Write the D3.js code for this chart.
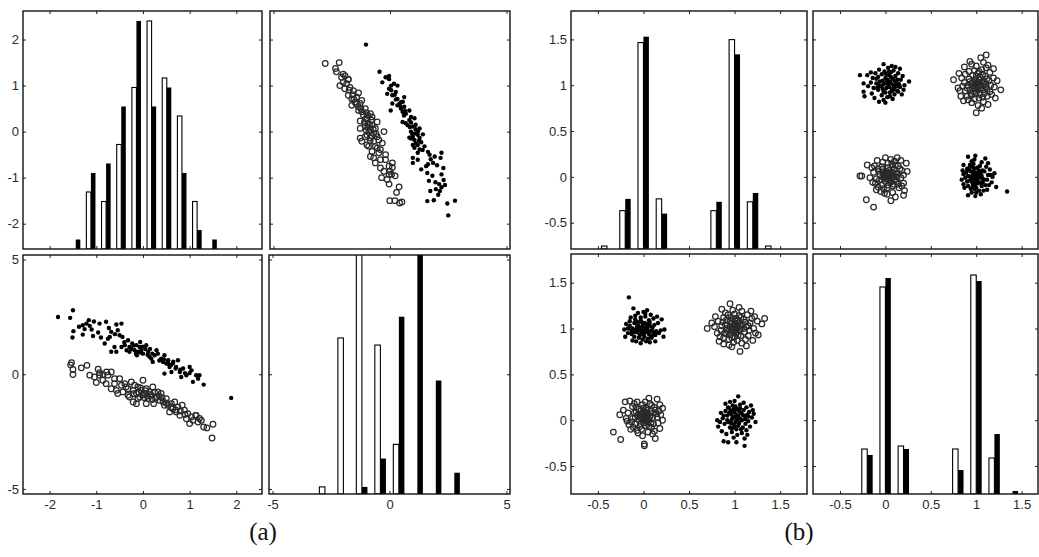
<!DOCTYPE html>
<html><head><meta charset="utf-8">
<script src="https://cdn.jsdelivr.net/npm/d3@7"></script>
<style>body{margin:0;background:#fff}svg{display:block}</style>
</head><body>
<svg id="c" width="1039" height="557"></svg>
<script>
// ---------- DATA ----------
// panel (a): two classes, each point = [var1, var2]
const aFilled = [[-1.82,2.50],[-1.50,2.79],[-1.56,2.46],[-1.49,1.88],[-1.51,1.60],[-1.37,2.07],[-1.29,2.14],[-1.25,1.97],[-1.21,2.21],[-1.16,2.36],[-1.14,2.11],[-1.29,1.73],[-1.07,1.67],[-0.93,2.21],[-0.96,1.82],[-0.79,2.29],[-0.73,2.02],[-0.68,1.85],[-0.82,1.34],[-0.71,1.63],[-0.57,2.17],[-0.54,1.92],[-0.46,2.21],[-0.50,1.70],[-0.44,1.63],[-0.61,1.19],[-0.68,0.98],[-0.57,0.98],[-0.46,1.19],[-0.39,1.27],[-0.32,1.48],[-0.29,1.19],[-0.29,0.98],[-0.23,1.34],[-0.18,1.05],[-0.14,1.27],[-0.11,0.98],[-0.13,0.83],[-0.07,1.19],[-0.04,1.05],[0.00,0.90],[-0.06,1.41],[0.07,1.27],[0.11,0.98],[0.14,0.76],[0.18,0.68],[0.21,0.54],[0.29,1.05],[0.32,0.90],[0.25,0.83],[0.39,0.68],[0.43,0.54],[0.46,0.83],[0.50,0.47],[0.54,0.61],[0.46,0.03],[0.57,0.32],[0.61,0.10],[0.64,0.47],[0.71,0.32],[0.75,0.61],[0.79,0.10],[0.82,-0.12],[0.86,0.25],[0.93,-0.04],[1.00,0.32],[1.04,0.17],[1.07,-0.33],[1.14,-0.04],[1.18,-0.19],[1.21,-0.04],[1.30,-0.45],[1.89,-1.03],[-0.25,1.10],[-0.20,1.25],[-0.05,0.95],[0.05,1.10],[0.00,1.20],[-0.15,0.90],[0.10,0.85],[0.20,0.90],[0.35,0.60],[0.60,0.40],[0.70,0.25],[0.80,0.20],[-0.40,1.40],[-0.90,1.60],[-1.10,1.95],[-0.60,1.75],[-0.35,1.05],[0.15,1.10],[0.55,0.45],[0.90,0.05],[1.00,0.05],[-1.05,2.30],[0.45,0.65],[0.65,0.55],[-0.75,1.55]];
const aHollow = [[-1.53,0.51],[-1.55,0.41],[-1.50,0.21],[-1.50,-0.01],[-1.32,0.28],[-1.20,0.39],[-1.00,-0.36],[-0.96,0.22],[-0.93,0.07],[-0.86,-0.01],[-0.86,-0.26],[-0.78,0.10],[-0.68,0.10],[1.50,-2.18],[1.48,-2.78],[1.37,-2.34],[1.30,-2.30],[1.21,-1.93],[1.14,-1.79],[-0.93,-0.04],[-0.75,-0.04],[-0.79,-0.41],[-0.68,-0.63],[-0.61,-0.41],[-0.57,-0.70],[-0.50,-0.19],[-0.46,-0.48],[-0.43,-0.77],[-0.39,-0.41],[-0.32,-0.63],[-0.32,-0.92],[-0.25,-0.33],[-0.21,-0.70],[-0.18,-0.48],[-0.14,-0.84],[-0.11,-0.55],[-0.04,-0.70],[-0.07,-0.99],[0.00,-0.26],[0.04,-0.84],[0.07,-0.63],[0.11,-1.06],[0.14,-0.77],[0.18,-0.92],[0.21,-0.55],[0.23,-1.28],[0.29,-0.99],[0.32,-0.77],[0.36,-1.14],[0.39,-0.84],[0.43,-1.21],[0.46,-1.35],[0.50,-1.06],[0.54,-1.35],[0.57,-1.64],[0.61,-1.28],[0.64,-1.50],[0.68,-1.21],[0.71,-1.64],[0.75,-1.43],[0.79,-1.79],[0.84,-1.35],[0.89,-1.57],[0.93,-1.94],[0.96,-1.72],[1.00,-2.15],[1.04,-1.86],[1.07,-2.01],[1.13,-1.79],[1.18,-2.08],[1.25,-2.01],[-0.29,-0.99],[-0.21,-1.21],[-0.14,-1.28],[-0.11,-1.06],[0.07,-1.28],[-0.36,-0.55],[-0.54,-0.84],[-0.61,-0.19],[-1.04,-0.12],[-1.14,-0.04],[0.00,-0.90],[0.10,-0.95],[-0.05,-0.60],[0.20,-1.10],[0.25,-0.80],[0.60,-1.45],[0.70,-1.55],[0.80,-1.60],[0.90,-1.75],[-0.20,-0.85],[0.35,-0.95],[0.50,-1.25],[0.03,-1.02],[0.15,-0.88],[-0.09,-0.78],[0.27,-1.05],[0.41,-1.02],[0.05,-0.72]];
// panel (a) histograms (counts per bin; white = hollow class, black = filled class)
const aBins1 = [-1.44,-1.115,-0.79,-0.465,-0.14,0.185,0.51,0.835,1.16,1.485];
const aHist1White = [0,6,5,11,17,24,18,14,5,0];
const aHist1Black = [1,8,9,15,24,15,17,8,2,1];
const aBins2 = [-2.76,-1.97,-1.18,-0.39,0.40,1.19,1.98,2.77];
const aHist2White = [1,22,49,21,7,0,0,0];
const aHist2Black = [0,0,1,5,25,50,16,3];
// panel (b): four clusters, each point = [var1, var2]
const bFilled = [
[-0.16,1.34],[-0.11,1.22],[-0.06,1.17],[0.00,1.18],[0.04,1.20],[0.08,1.15],[-0.14,1.12],[-0.09,1.10],[-0.03,1.12],[0.02,1.13],[0.06,1.09],[0.11,1.11],[0.20,1.10],[0.16,1.06],[-0.19,1.05],[-0.15,1.03],[-0.10,1.06],[-0.06,1.04],[-0.02,1.07],[0.03,1.05],[0.07,1.03],[0.12,1.04],[-0.21,0.99],[-0.12,1.00],[-0.08,0.99],[-0.04,1.01],[0.00,1.00],[0.04,0.99],[0.09,0.98],[0.14,0.97],[0.23,0.99],[-0.17,0.95],[-0.13,0.94],[-0.07,0.96],[-0.02,0.95],[0.02,0.96],[0.06,0.94],[0.11,0.93],[0.17,0.95],[-0.20,0.91],[-0.10,0.91],[-0.05,0.90],[0.01,0.91],[0.05,0.89],[0.09,0.90],[0.13,0.86],[0.22,0.91],[-0.12,0.87],[-0.03,0.84],[0.03,0.86],[0.07,0.85],[-0.08,0.86],[-0.01,1.03],[0.05,1.02],[-0.05,0.98],[0.01,0.97],[0.10,1.01],[-0.11,0.96],[-0.03,1.09],[0.07,1.07],[-0.15,1.08],[0.13,0.93],[0.00,0.94],[-0.07,1.02],[0.03,1.01],[-0.01,0.88],[0.15,1.13],[-0.17,1.00],[0.08,0.92],[-0.04,0.93],[0.02,1.16],[-0.09,1.14],[0.19,0.98],[-0.13,0.98],[0.11,0.96],[0.04,1.04],[-0.06,1.07],[-0.02,0.99],[0.06,0.97],[0.01,1.06],
[1.04,0.26],[0.90,0.18],[1.18,0.16],[0.88,-0.23],[0.93,-0.24],[1.02,-0.24],[1.11,-0.28],[1.23,-0.02],[0.81,0.00],[0.82,-0.07],[0.85,0.08],[0.87,0.02],[0.89,-0.04],[0.90,0.10],[0.92,0.05],[0.93,-0.02],[0.94,0.13],[0.95,-0.08],[0.96,0.07],[0.97,0.01],[0.98,0.16],[0.99,-0.05],[1.00,0.09],[1.01,0.03],[1.02,-0.10],[1.03,0.12],[1.04,0.05],[1.05,-0.03],[1.06,0.17],[1.07,0.08],[1.08,0.00],[1.09,-0.08],[1.10,0.11],[1.11,0.04],[1.12,-0.04],[1.13,0.14],[1.14,0.06],[1.15,-0.01],[1.16,0.09],[1.17,-0.07],[1.19,0.03],[1.20,0.11],[0.86,-0.12],[0.91,-0.15],[0.97,-0.13],[1.03,-0.16],[1.08,-0.14],[1.13,-0.11],[0.95,0.20],[1.00,0.21],[1.10,0.19],[0.92,0.00],[0.98,0.04],[1.02,0.06],[1.06,0.02],[0.96,-0.03],[1.01,-0.02],[1.05,0.10],[0.99,0.12],[0.94,0.08],[1.09,0.06],[1.04,-0.06],[0.97,-0.09],[1.12,0.01],[0.88,0.05],[1.15,0.04],[1.07,-0.10],[1.01,0.15],[0.93,0.14],[1.00,-0.07],[1.14,-0.16],[0.99,-0.19],[1.21,0.07],[0.84,-0.02],[1.03,0.01],[0.96,0.10],[1.06,0.13],[1.11,-0.20]];
const bHollow = [
[0.70,1.00],[0.75,1.06],[0.79,1.13],[0.86,1.21],[0.95,1.27],[1.08,1.19],[1.19,1.11],[1.30,1.05],[1.33,1.11],[1.21,1.00],[1.23,0.95],[1.20,0.87],[1.06,0.75],[0.94,0.82],[0.88,0.83],[0.84,0.91],[0.83,0.86],[0.78,1.02],[0.82,1.08],[0.85,0.98],[0.88,1.12],[0.90,1.04],[0.91,0.94],[0.93,1.15],[0.95,1.08],[0.96,0.99],[0.97,0.90],[0.98,1.20],[1.00,1.03],[1.01,1.11],[1.02,0.95],[1.03,0.87],[1.04,1.06],[1.05,1.14],[1.06,0.99],[1.07,0.92],[1.09,1.04],[1.10,1.10],[1.11,0.96],[1.12,0.88],[1.13,1.02],[1.14,1.15],[1.16,0.98],[1.17,1.06],[1.15,0.92],[1.25,1.08],[1.26,0.93],[0.92,1.00],[0.97,1.05],[0.99,0.96],[1.01,0.99],[1.03,1.02],[0.96,1.12],[1.00,1.16],[0.89,0.95],[0.87,1.07],[0.94,0.88],[1.08,0.84],[1.13,0.81],[0.99,0.85],[1.05,1.23],[0.90,1.17],[1.18,1.19],[1.22,1.13],[0.81,0.95],[0.93,0.97],[1.02,1.08],[1.06,1.03],[0.98,1.01],[1.04,0.93],[1.10,1.00],[0.95,0.93],[1.12,1.07],[0.86,1.03],[1.00,0.91],[0.91,1.09],[1.07,1.12],[0.97,0.80],[1.15,1.03],[0.88,0.90],[0.99,1.03],[1.02,1.00],[0.97,0.98],[1.04,1.09],[0.95,1.02],[1.01,1.05],[0.98,1.10],[1.03,0.97],
[-0.33,-0.13],[-0.25,-0.21],[0.01,-0.26],[0.01,-0.28],[0.13,-0.20],[-0.20,0.20],[-0.15,0.21],[-0.07,0.20],[0.06,0.24],[0.15,0.23],[0.21,0.13],[0.21,0.00],[0.18,-0.09],[-0.22,0.11],[-0.19,0.02],[-0.16,-0.05],[-0.07,-0.11],[0.09,-0.08],[-0.12,0.15],[-0.10,0.08],[-0.13,-0.02],[-0.09,0.03],[-0.05,0.12],[-0.04,0.05],[-0.03,-0.04],[-0.01,0.17],[0.00,0.09],[0.01,0.02],[0.02,-0.06],[0.03,0.13],[0.04,0.06],[0.05,-0.02],[0.07,0.18],[0.08,0.10],[0.10,0.03],[0.11,-0.04],[0.12,0.14],[0.14,0.07],[0.16,-0.03],[0.17,0.10],[-0.11,-0.08],[-0.06,-0.14],[0.05,-0.13],[0.12,-0.12],[-0.17,0.08],[-0.08,0.14],[0.02,0.20],[0.09,0.16],[-0.02,-0.10],[-0.14,-0.10],[0.15,0.03],[-0.05,0.00],[0.00,-0.03],[0.03,0.04],[-0.02,0.07],[0.06,0.01],[-0.09,-0.04],[0.08,-0.03],[-0.03,0.10],[0.11,0.08],[-0.18,-0.01],[0.19,0.06],[0.04,0.11],[-0.06,0.06],[0.07,0.04],[-0.01,-0.17],[0.10,-0.15],[-0.12,0.02],[0.13,0.11],[-0.04,-0.07],[0.06,-0.07],[0.00,0.13],[-0.08,0.09],[0.03,-0.01],[-0.10,0.18],[0.18,0.17],[-0.26,0.06],[0.02,0.09],[0.00,0.01],[0.02,0.03],[-0.01,0.04],[0.01,-0.01],[0.03,0.02],[-0.02,0.01],[0.01,0.06],[0.04,0.00],[-0.03,0.03],[0.00,0.05]];
const bBins1 = [-0.4,-0.2,0,0.2,0.8,1.0,1.2,1.4];
const bHist1White = [1,13,70,17,13,71,16,1];
const bHist1Black = [0,17,72,12,16,66,19,0];
const bBins2 = [-0.2,0,0.2,0.8,1.0,1.2,1.4];
const bHist2White = [15,69,16,15,73,12,0];
const bHist2Black = [13,72,15,8,71,20,1];
// tick values
const aTicks1 = [-2,-1,0,1,2];
const aTicks2 = [-5,0,5];
const bTicks = [-0.5,0,0.5,1,1.5];
const captions = ["(a)","(b)"];

// ---------- DRAW ----------
const svg = d3.select("#c");
svg.append("rect").attr("width",1039).attr("height",557).attr("fill","#fff");
let clipId = 0;
const fmt = d => String(d);

function panel(p){
  const g = svg.append("g");
  const xs = d3.scaleLinear().domain(p.xd).range([p.x, p.x+p.w]);
  const ys = d3.scaleLinear().domain(p.yd).range([p.y+p.h, p.y]);
  const id = "clip"+(clipId++);
  g.append("clipPath").attr("id",id).append("rect")
    .attr("x",p.x).attr("y",p.y).attr("width",p.w).attr("height",p.h);
  const body = g.append("g").attr("clip-path","url(#"+id+")");
  if (p.hist){
    const cs = d3.scaleLinear().domain([0,p.hist.max]).range([p.y+p.h, p.y]);
    const step = p.hist.bins[1]-p.hist.bins[0];
    const bw = 0.3*Math.abs(step);
    p.hist.bins.forEach((c,i)=>{
      const wv = p.hist.white[i], bv = p.hist.black[i];
      if (wv>0) body.append("rect").attr("x",xs(c-bw)).attr("width",xs(c)-xs(c-bw))
        .attr("y",cs(wv)).attr("height",cs(0)-cs(wv))
        .attr("fill","#fff").attr("stroke","#000").attr("stroke-width",1.1);
      if (bv>0) body.append("rect").attr("x",xs(c)).attr("width",xs(c+bw)-xs(c))
        .attr("y",cs(bv)).attr("height",cs(0)-cs(bv)).attr("fill","#000");
    });
  }
  if (p.pts){
    const ix = p.swap?1:0, iy = p.swap?0:1;
    body.selectAll(null).data(p.pts.hollow).enter().append("circle")
      .attr("cx",d=>xs(d[ix])).attr("cy",d=>ys(d[iy])).attr("r",2.8)
      .attr("fill","none").attr("stroke","#2a2a2a").attr("stroke-width",1.25);
    body.selectAll(null).data(p.pts.filled).enter().append("circle")
      .attr("cx",d=>xs(d[ix])).attr("cy",d=>ys(d[iy])).attr("r",2.2)
      .attr("fill","#000");
  }
  const style = a => { a.select(".domain").remove();
    a.selectAll("line").attr("stroke","#222");
    a.selectAll("text").attr("fill","#2a2a2a").style("font-family","'Liberation Sans',Arial,sans-serif").style("font-size","13px"); };
  g.append("g").attr("transform",`translate(0,${p.y+p.h})`)
    .call(d3.axisBottom(xs).tickValues(p.xt).tickSize(-3).tickPadding(6).tickFormat(p.xl?fmt:"")).call(style);
  g.append("g").attr("transform",`translate(0,${p.y})`)
    .call(d3.axisTop(xs).tickValues(p.xt).tickSize(-3).tickFormat("")).call(style);
  g.append("g").attr("transform",`translate(${p.x},0)`)
    .call(d3.axisLeft(ys).tickValues(p.yt).tickSize(-3).tickPadding(4).tickFormat(p.yl?fmt:"")).call(style);
  g.append("g").attr("transform",`translate(${p.x+p.w},0)`)
    .call(d3.axisRight(ys).tickValues(p.yt).tickSize(-3).tickFormat("")).call(style);
  g.append("rect").attr("x",p.x).attr("y",p.y).attr("width",p.w).attr("height",p.h)
    .attr("fill","none").attr("stroke","#111").attr("stroke-width",1.4);
}

const aCol1=[-2.57,2.55], aCol2=[-5.15,5.15], aRow1=[-2.55,2.62], aRow2=[-5.22,5.20];
const bCol1=[-0.795,1.795], bCol2=[-0.797,1.68], bRow1=[-0.787,1.81], bRow2=[-0.805,1.813];
const aPts={filled:aFilled,hollow:aHollow}, bPts={filled:bFilled,hollow:bHollow};

panel({x:23,y:11,w:239,h:238,xd:aCol1,yd:aRow1,xt:aTicks1,yt:aTicks1,yl:true,
  hist:{bins:aBins1,white:aHist1White,black:aHist1Black,max:25.05}});
panel({x:270,y:11,w:240,h:238,xd:aCol2,yd:aRow1,xt:aTicks2,yt:aTicks1,pts:aPts,swap:true});
panel({x:23,y:255,w:239,h:239,xd:aCol1,yd:aRow2,xt:aTicks1,yt:aTicks2,xl:true,yl:true,pts:aPts});
panel({x:269,y:255,w:241,h:239,xd:aCol2,yd:aRow2,xt:aTicks2,yt:aTicks2,xl:true,
  hist:{bins:aBins2,white:aHist2White,black:aHist2Black,max:33.7}});

panel({x:571,y:11,w:236,h:238,xd:bCol1,yd:bRow1,xt:bTicks,yt:bTicks,yl:true,
  hist:{bins:bBins1,white:bHist1White,black:bHist1Black,max:80.7}});
panel({x:813,y:11,w:225,h:238,xd:bCol2,yd:bRow1,xt:bTicks,yt:bTicks,pts:bPts,swap:true});
panel({x:571,y:254,w:236,h:240,xd:bCol1,yd:bRow2,xt:bTicks,yt:bTicks,xl:true,yl:true,pts:bPts});
panel({x:813,y:254,w:225,h:240,xd:bCol2,yd:bRow2,xt:bTicks,yt:bTicks,xl:true,
  hist:{bins:bBins2,white:bHist2White,black:bHist2Black,max:80}});

svg.selectAll(null).data(captions).enter().append("text")
  .attr("x",(d,i)=>i===0?263:799).attr("y",540).attr("text-anchor","middle")
  .style("font-family","'Liberation Serif','Times New Roman',serif").style("font-size","25px")
  .attr("fill","#111").text(d=>d);
</script>
</body></html>
